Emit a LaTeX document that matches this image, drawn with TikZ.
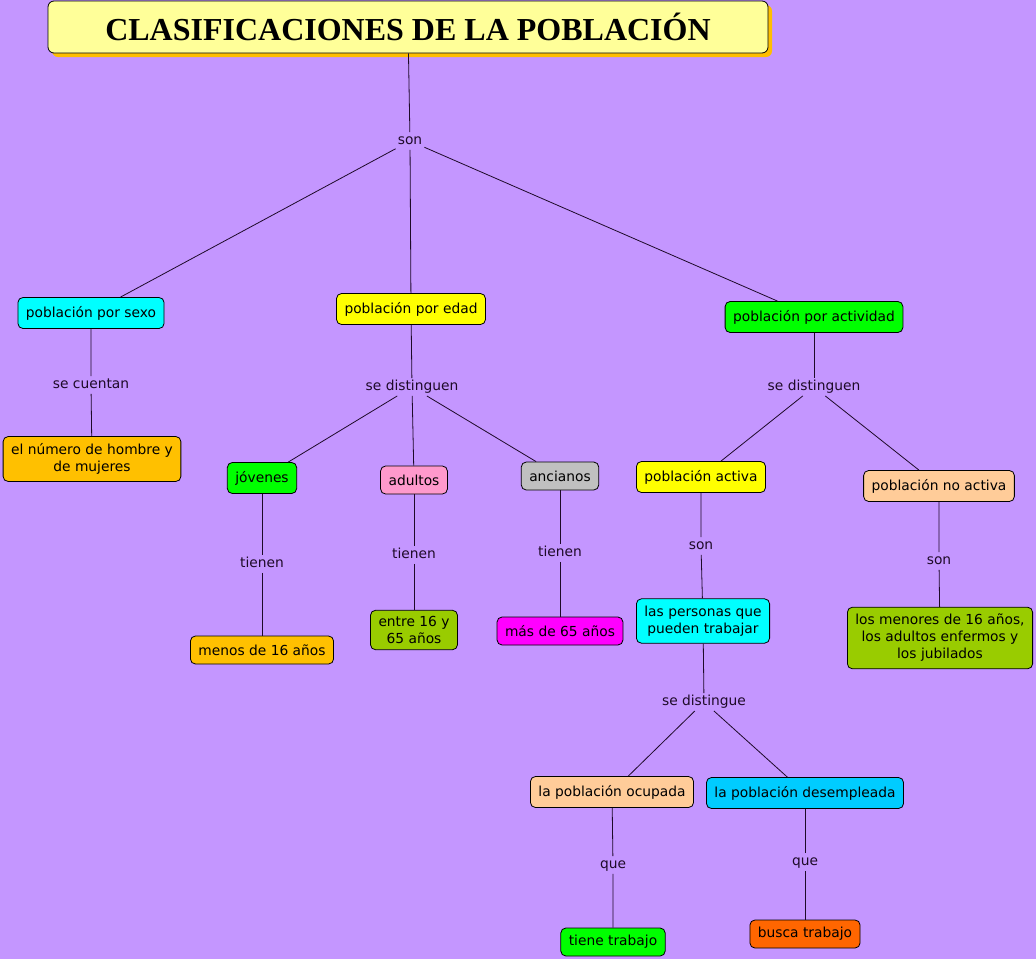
\documentclass[tikz,border=0pt]{standalone}
\usepackage{fontspec}
\setmainfont{DejaVu Sans}
\newfontfamily\titlefont{Liberation Serif}
\usetikzlibrary{shadows}
\definecolor{FondoLila}{RGB}{196,150,255}
\definecolor{TituloAmarillo}{RGB}{255,255,153}
\definecolor{SombraOro}{RGB}{255,190,0}
\definecolor{Cian}{RGB}{0,255,255}
\definecolor{Amarillo}{RGB}{255,255,0}
\definecolor{Verde}{RGB}{0,255,0}
\definecolor{Oro}{RGB}{255,192,0}
\definecolor{Rosa}{RGB}{255,153,204}
\definecolor{Gris}{RGB}{192,192,192}
\definecolor{Oliva}{RGB}{153,204,0}
\definecolor{Magenta}{RGB}{255,0,255}
\definecolor{Melocoton}{RGB}{255,204,153}
\definecolor{Celeste}{RGB}{0,204,255}
\definecolor{Naranja}{RGB}{255,102,0}
\definecolor{Tinta}{RGB}{30,10,40}

\tikzset{
  concepto/.style={draw=black, line width=0.8pt, rounded corners=5pt, align=center,
    font=\fontsize{13.8}{17}\selectfont, inner xsep=8pt, inner ysep=7pt,
    minimum height=31pt},
  bajo/.style={minimum height=28pt},
  enlace/.style={font=\fontsize{13.8}{17}\selectfont, text=Tinta, inner sep=2pt,
    text height=10pt, text depth=3.5pt},
  linea/.style={draw=Tinta, line width=0.8pt}
}

\begin{document}
\begin{tikzpicture}[x=1pt, y=-1pt]

% fondo
\fill[FondoLila] (0,0) rectangle (1036,959);
\useasboundingbox (0,0) rectangle (1036,959);

% titulo
\node[draw=black, line width=0.8pt, rounded corners=6pt, fill=TituloAmarillo,
      minimum width=720pt, minimum height=52pt, inner sep=0pt,
      drop shadow={fill=SombraOro, opacity=1, shadow xshift=4pt, shadow yshift=-4pt},
      font=\titlefont\bfseries\fontsize{32}{36}\selectfont] (titulo) at (408,27)
    {CLASIFICACIONES DE LA POBLACIÓN};

% primer nivel
\node[enlace] (son) at (410,141) {son};
\node[concepto, fill=Cian] (sexo) at (91,313) {población por sexo};
\node[concepto, fill=Amarillo] (edad) at (411,309) {población por edad};
\node[concepto, fill=Verde] (actividad) at (814,317) {población por actividad};

% por sexo
\node[enlace] (cuentan) at (91,385) {se cuentan};
\node[concepto, fill=Oro] (numero) at (92,459) {el número de hombre y\\de mujeres};

% por edad
\node[enlace] (distEdad) at (412,387) {se distinguen};
\node[concepto, fill=Verde] (jovenes) at (262,478) {jóvenes};
\node[concepto, fill=Rosa, bajo] (adultos) at (414,480) {adultos};
\node[concepto, fill=Gris, bajo] (ancianos) at (560,476) {ancianos};
\node[enlace] (tienenJ) at (262,564) {tienen};
\node[enlace] (tienenA) at (414,555) {tienen};
\node[enlace] (tienenN) at (560,553) {tienen};
\node[concepto, fill=Oro, bajo] (menos) at (262,650) {menos de 16 años};
\node[concepto, fill=Oliva, inner ysep=6pt] (entre) at (414,630) {entre 16 y\\65 años};
\node[concepto, fill=Magenta, bajo] (mas) at (560,631) {más de 65 años};

% por actividad
\node[enlace] (distAct) at (814,387) {se distinguen};
\node[concepto, fill=Amarillo] (activa) at (701,477) {población activa};
\node[concepto, fill=Melocoton] (noactiva) at (939,486) {población no activa};
\node[enlace] (sonA) at (701,546) {son};
\node[enlace] (sonN) at (939,561) {son};
\node[concepto, fill=Cian] (personas) at (703,621) {las personas que\\pueden trabajar};
\node[concepto, fill=Oliva] (menores) at (940,638) {los menores de 16 años,\\los adultos enfermos y\\los jubilados};

% activa
\node[enlace] (distingue) at (704,702) {se distingue};
\node[concepto, fill=Melocoton] (ocupada) at (612,792) {la población ocupada};
\node[concepto, fill=Celeste] (desempleada) at (805,793) {la población desempleada};
\node[enlace] (queO) at (613,865) {que};
\node[enlace] (queD) at (805,862) {que};
\node[concepto, fill=Verde, bajo] (tiene) at (613,942) {tiene trabajo};
\node[concepto, fill=Naranja, bajo] (busca) at (805,934) {busca trabajo};

% conectores
\draw[linea] (titulo) -- (son);
\foreach \hijo in {sexo, edad, actividad}
  \draw[linea] (son) -- (\hijo);
\draw[linea] (sexo) -- (cuentan) -- (numero);
\draw[linea] (edad) -- (distEdad);
\foreach \hijo in {jovenes, adultos, ancianos}
  \draw[linea] (distEdad) -- (\hijo);
\draw[linea] (jovenes) -- (tienenJ) -- (menos);
\draw[linea] (adultos) -- (tienenA) -- (entre);
\draw[linea] (ancianos) -- (tienenN) -- (mas);
\draw[linea] (actividad) -- (distAct);
\draw[linea] (distAct) -- (activa);
\draw[linea] (distAct) -- (noactiva);
\draw[linea] (activa) -- (sonA) -- (personas);
\draw[linea] (noactiva) -- (sonN) -- (menores);
\draw[linea] (personas) -- (distingue);
\draw[linea] (distingue) -- (ocupada);
\draw[linea] (distingue) -- (desempleada);
\draw[linea] (ocupada) -- (queO) -- (tiene);
\draw[linea] (desempleada) -- (queD) -- (busca);

\end{tikzpicture}
\end{document}
